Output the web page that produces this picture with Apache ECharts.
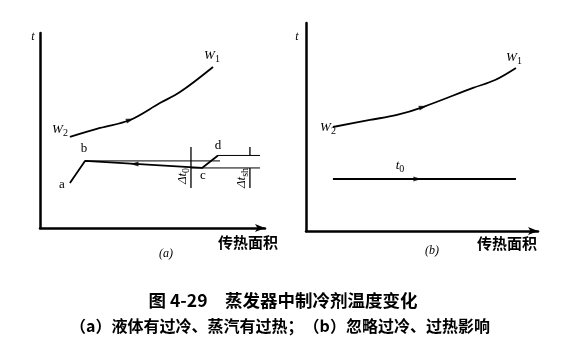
<!DOCTYPE html>
<html><head><meta charset="utf-8">
<script src="https://cdn.jsdelivr.net/npm/echarts@6/dist/echarts.min.js"></script>
<style>html,body{margin:0;padding:0;background:#fff}#c{width:572px;height:360px}</style>
</head><body><div id="c"></div>
<script>
// Panel (a): refrigerant with subcooling and superheat (axes 0-100, arbitrary units)
const curveA = [[13.3,46.7],[26.7,51.3],[40,55.4],[53.3,64.1],[62.2,69.7],[76.9,82.6]];
const pathABCD = [[13.3,23.1],[20,34.4],[72,30.8],[79.1,37.2]];   // a -> b -> c -> d
const bLevel = [[20,34.4],[80,34.4]];
const cLevel = [[67.1,30.8],[97.8,30.8]];
const dLevel = [[79.1,37.2],[97.8,37.2]];
const dt0Mark = [[67.1,41.5],[67.1,20.5]];
const dtshTop = [[93.3,41.5],[93.3,37.2]];
const dtshBot = [[93.3,30.8],[93.3,20.5]];
const arrowsA = [[40,55.4,-72],[42,32.8,90]];
// Panel (b): subcooling / superheat ignored
const curveB = [[11.6,50],[27.6,53.4],[39.2,55.8],[50.4,59.6],[72,68.8],[81.5,72.6],[90.5,78.4]];
const t0Line = [[11.6,25],[90.5,25]];
const arrowsB = [[50.4,59.6,-75],[48,25,-90]];
const xName = '传热面积';
const title = '图 4-29　蒸发器中制冷剂温度变化';
const subtitle = '（a）液体有过冷、蒸汽有过热；（b）忽略过冷、过热影响';

const chart = echarts.init(document.getElementById('c'), null, {renderer:'canvas'});
const axisBase = () => ({
  type:'value', min:0, max:100, axisTick:{show:false}, axisLabel:{show:false},
  splitLine:{show:false}
});
function xAx(gi){ return Object.assign(axisBase(),{gridIndex:gi,
  axisLine:{show:true,lineStyle:{color:'#000',width:2.5},symbol:['none','arrow'],symbolSize:[6,10]}});}
function yAx(gi){ return Object.assign(axisBase(),{gridIndex:gi,
  axisLine:{show:true,lineStyle:{color:'#000',width:2.5}}});}
function ln(data, gi, w){ return {type:'line', xAxisIndex:gi, yAxisIndex:gi, data:data,
  showSymbol:false, silent:true, animation:false, lineStyle:{color:'#000',width:w||1.2}};}
function sm(data, gi, w){ const s = ln(data, gi, w||1.8); s.smooth = 0.35; return s; }
function arr(data, gi){ return {type:'scatter', xAxisIndex:gi, yAxisIndex:gi, animation:false, silent:true,
  data:data.map(d=>({value:[d[0],d[1]], symbolRotate:d[2]})), symbol:'triangle', symbolSize:[5,8],
  itemStyle:{color:'#000'}};}

const serif = '"Liberation Serif","DejaVu Serif",serif';
const cjk = '"Noto Sans CJK SC",sans-serif';
function T(text,x,y,font,extra){ return Object.assign({type:'text',x:x,y:y,style:{text:text,font:font,fill:'#000',align:'center',verticalAlign:'middle'}},extra||{});}
function R(main,sub,x,y,extra){ return Object.assign({type:'text',x:x,y:y,style:{text:'{w|'+main+'}{s|'+sub+'}',align:'center',verticalAlign:'middle',fill:'#000',
  rich:{w:{font:'italic 13px '+serif,fill:'#000'},s:{font:'10px '+serif,fill:'#000',padding:[6,0,0,0]}}}},extra||{});}

chart.setOption({
  backgroundColor:'#fff',
  animation:false,
  grid:[{left:40,top:33,right:307,bottom:132},{left:306,top:23,right:34,bottom:129}],
  xAxis:[xAx(0),xAx(1)],
  yAxis:[yAx(0),yAx(1)],
  series:[
    sm(curveA,0), ln(pathABCD,0,1.8), ln(bLevel,0,1), ln(cLevel,0,1), ln(dLevel,0,1),
    ln(dt0Mark,0,1.3), ln(dtshTop,0,1.3), ln(dtshBot,0,1.3), arr(arrowsA,0),
    sm(curveB,1), ln(t0Line,1,1.8), arr(arrowsB,1)
  ],
  graphic:[
    T('t',33,37,'italic 12px '+serif), T('t',297,37,'italic 12px '+serif),
    R('W','1',212,56), R('W','2',60,130), R('W','1',514,58), R('W','2',328,128),
    T('a',62,185,'13px '+serif), T('b',84,149,'13px '+serif), T('c',203,176,'13px '+serif), T('d',218,146,'13px '+serif),
    R('Δt','0',183,176,{rotation:Math.PI/2}),
    R('Δt','sh',242,178,{rotation:Math.PI/2}),
    R('t','0',400,166),
    T(xName,248,242,'bold 15px '+cjk), T(xName,507,243,'bold 15px '+cjk),
    T('(a)',166,254,'italic 12px '+serif), T('(b)',432,251,'italic 12px '+serif),
    T(title,283,300,'bold 17.5px '+cjk),
    T(subtitle,280,326,'bold 16px '+cjk)
  ]
});
</script></body></html>
